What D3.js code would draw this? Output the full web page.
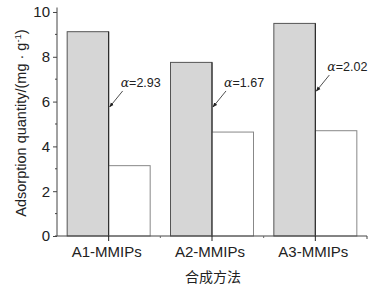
<!DOCTYPE html>
<html>
<head>
<meta charset="utf-8">
<script src="https://cdn.jsdelivr.net/npm/d3@7"></script>
<style>
  body { margin: 0; background: #fff; }
  text { font-family: "Liberation Sans", Arial, sans-serif; fill: #222; }
</style>
</head>
<body>
<div id="chart"></div>
<script>
const width = 386;
const height = 291;

// dados
const categories = ["A1-MMIPs", "A2-MMIPs", "A3-MMIPs"];
const grayValues = [9.12, 7.75, 9.49];
const whiteValues = [3.14, 4.64, 4.70];
const alphaLabels = ["2.93", "1.67", "2.02"];
const alphaAt = [5.76, 5.76, 6.47];
const yTicks = [0, 2, 4, 6, 8, 10];
const yMinor = [1, 3, 5, 7, 9];

const svg = d3.select("#chart").append("svg")
    .attr("width", width)
    .attr("height", height);

const y = d3.scaleLinear().domain([0, 10.2]).range([236, 7.5]);

// grupos e barras dentro de cada grupo
const group = d3.scaleBand().domain(categories).range([57, 367]);
const inner = d3.scaleBand().domain(["g", "w"]).range([0, group.bandwidth()]).paddingOuter(0.245);

const g = svg.append("g");

categories.forEach((c, i) => {
  const gx = group(c);
  g.append("rect")
    .attr("x", gx + inner("g")).attr("y", y(grayValues[i]))
    .attr("width", inner.bandwidth()).attr("height", y(0) - y(grayValues[i]))
    .attr("fill", "#d6d6d6").attr("stroke", "#555").attr("stroke-width", 1);
  g.append("rect")
    .attr("x", gx + inner("w")).attr("y", y(whiteValues[i]))
    .attr("width", inner.bandwidth()).attr("height", y(0) - y(whiteValues[i]))
    .attr("fill", "#fff").attr("stroke", "#888").attr("stroke-width", 1);
  // linha divisória
  g.append("line")
    .attr("x1", gx + inner("w")).attr("x2", gx + inner("w"))
    .attr("y1", y(grayValues[i])).attr("y2", y(0))
    .attr("stroke", "#222").attr("stroke-width", 1);
});

// eixo y
const yAxis = d3.axisLeft(y).tickValues(yTicks).tickSize(4).tickPadding(3).tickFormat(d3.format("d"));
const ya = svg.append("g").attr("transform", "translate(57,0)").call(yAxis);
ya.select(".domain").attr("stroke", "#444").attr("d", `M0,${y(0)}V${y.range()[1]}`);
ya.selectAll(".tick line").attr("stroke", "#444");
ya.selectAll("text").style("font-size", "15px").attr("fill", "#222");
ya.selectAll(".minor").data(yMinor).join("line")
  .attr("x1", -2).attr("x2", 0)
  .attr("y1", d => y(d)).attr("y2", d => y(d))
  .attr("stroke", "#444");

// eixo x
const shift = inner("w") - group.bandwidth() / 2;
const xAxis = d3.axisBottom(group).tickSize(5).tickPadding(5);
const xa = svg.append("g").attr("transform", `translate(0,${y(0)})`).call(xAxis);
xa.select(".domain").attr("stroke", "#444").attr("d", "M55,0H367V3");
xa.selectAll(".tick line").attr("stroke", "#222").attr("transform", `translate(${shift},0)`);
xa.selectAll(".tick text").style("font-size", "15px").attr("fill", "#222")
  .attr("transform", `translate(${shift - 2},0)`);
[1, 2].forEach(k => {
  xa.append("line").attr("x1", 57 + k * group.step()).attr("x2", 57 + k * group.step())
    .attr("y1", 0).attr("y2", 2).attr("stroke", "#666");
});

// anotações alfa
const defs = svg.append("defs");
defs.append("marker").attr("id", "arr").attr("viewBox", "0 0 10 10")
  .attr("refX", 9).attr("refY", 5).attr("markerWidth", 6).attr("markerHeight", 6)
  .attr("orient", "auto")
  .append("path").attr("d", "M0,1L10,5L0,9Z").attr("fill", "#222");

categories.forEach((c, i) => {
  const bx = group(c) + inner("w");
  const ty = y(alphaAt[i]);
  svg.append("line")
    .attr("x1", bx + 14).attr("y1", ty - 16)
    .attr("x2", bx + 1).attr("y2", ty)
    .attr("stroke", "#222").attr("stroke-width", 0.8)
    .attr("marker-end", "url(#arr)");
  const t = svg.append("text").attr("x", bx + 12).attr("y", ty - 20)
    .style("font-size", "12.5px").attr("fill", "#333");
  t.append("tspan").style("font-style", "italic").style("font-family", "'DejaVu Serif', serif").text("α");
  t.append("tspan").text("=" + alphaLabels[i]);
});

// rótulo do eixo y
const yl = svg.append("text")
  .attr("transform", "translate(26,123) rotate(-90)")
  .attr("text-anchor", "middle")
  .style("font-size", "14.5px");
yl.append("tspan").text("Adsorption quantity/(mg · g");
yl.append("tspan").attr("dy", -5).style("font-size", "9.5px").text("-1");
yl.append("tspan").attr("dy", 5).text(")");

svg.append("text")
  .attr("x", 213).attr("y", 282)
  .attr("text-anchor", "middle")
  .style("font-family", "'Noto Sans CJK SC', sans-serif")
  .style("font-size", "14px")
  .text("合成方法");
</script>
</body>
</html>
